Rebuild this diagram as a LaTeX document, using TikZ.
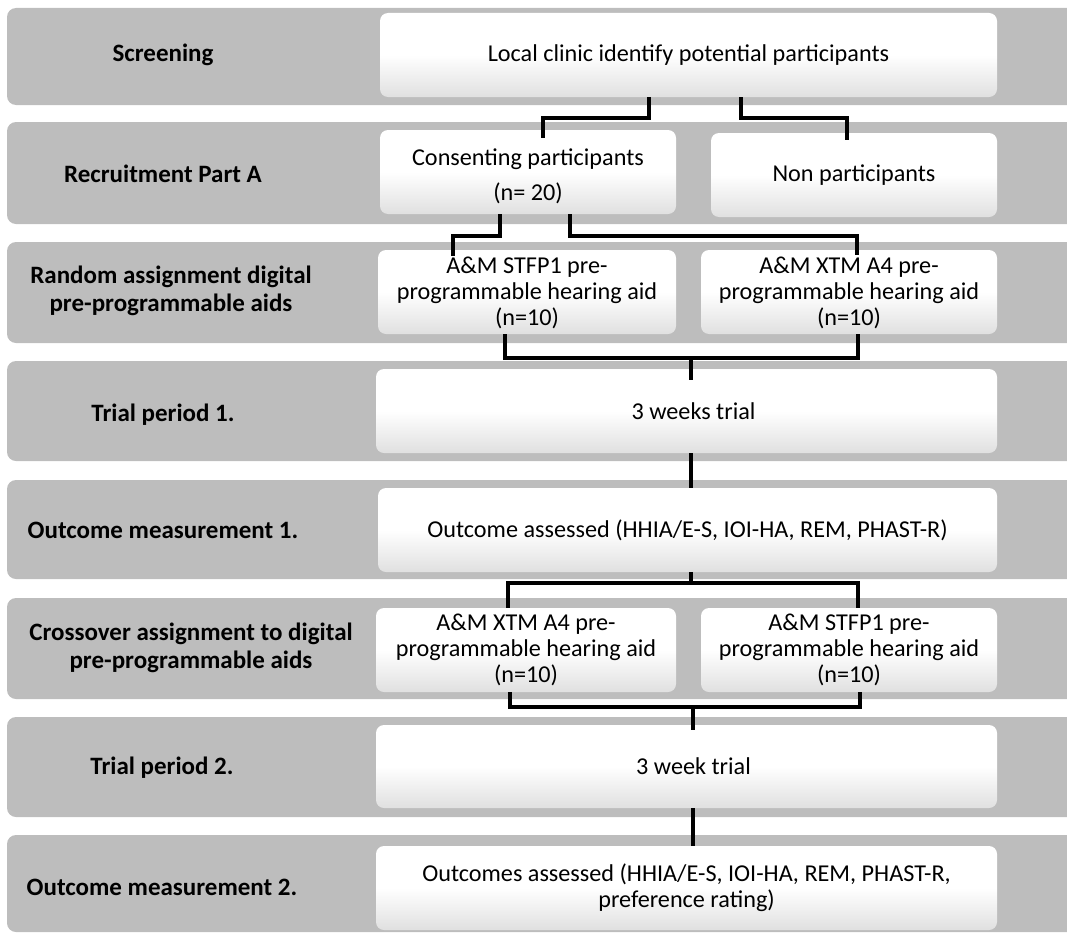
\documentclass[tikz,border=0pt]{standalone}
\usepackage{fontspec}
\setmainfont{Carlito}
\definecolor{bandgray}{RGB}{189,189,189}
\definecolor{boxbot}{RGB}{224,224,224}
\begin{document}
\begin{tikzpicture}[x=1pt,y=-1pt,
  band/.style={fill=bandgray, rounded corners=9pt},
  lbl/.style={font=\fontsize{25}{28}\selectfont\bfseries, inner sep=0pt, align=center},
  wbox/.style={rectangle, rounded corners=8pt, top color=white, bottom color=boxbot, middle color=white,
    inner sep=0pt, align=center, font=\fontsize{24.2}{26}\selectfont},
  conn/.style={line width=4pt, line join=miter, draw=black}]
\useasboundingbox (0,0) rectangle (1067,934);
\clip (0,0) rectangle (1067,934);
% bands
\foreach \t/\b in {8/105,122/224,242/343,361/461,480/579,598/699,717/817,835/932}
  \fill[band] (7,\t) rectangle (1095,\b);
% left labels
\node[lbl] (l1) at (163,55) {Screening};
\node[lbl] (l2) at (163,174) {Recruitment Part A};
\node[lbl] (l3) at (171,291) {Random assignment digital\\pre-programmable aids};
\node[lbl] (l4) at (163,415) {Trial period 1.};
\node[lbl] (l5) at (163,530) {Outcome measurement 1.};
\node[lbl] (l6) at (191,648) {Crossover assignment to digital\\pre-programmable aids};
\node[lbl] (l7) at (162,768) {Trial period 2.};
\node[lbl] (l8) at (162,887) {Outcome measurement 2.};
% boxes
\node[wbox, minimum width=617, minimum height=84] (scr) at (688.5,55) {Local clinic identify potential participants};
\node[wbox, minimum width=296, minimum height=84] (con) at (528,172) {\raisebox{-6pt}[\height][\depth]{\begin{tabular}{@{}c@{}}Consenting participants\\[9pt](n= 20)\end{tabular}}};
\node[wbox, minimum width=286, minimum height=84] (non) at (854,175) {Non participants};
\node[wbox, minimum width=298, minimum height=84] (r1) at (527,292) {\raisebox{-2pt}[\height][\depth]{\begin{tabular}{@{}c@{}}A\&M STFP1 pre-\\programmable hearing aid\\(n=10)\end{tabular}}};
\node[wbox, minimum width=296, minimum height=84] (r2) at (849,292) {\raisebox{-2pt}[\height][\depth]{\begin{tabular}{@{}c@{}}A\&M XTM A4 pre-\\programmable hearing aid\\(n=10)\end{tabular}}};
\node[wbox, minimum width=621, minimum height=84] (t1) at (686.5,411) {\hspace*{14pt}3 weeks trial};
\node[wbox, minimum width=619, minimum height=84] (o1) at (687.5,530) {Outcome assessed (HHIA/E-S, IOI-HA, REM, PHAST-R)};
\node[wbox, minimum width=300, minimum height=84] (c1) at (526,650) {A\&M XTM A4 pre-\\programmable hearing aid\\(n=10)};
\node[wbox, minimum width=296, minimum height=84] (c2) at (849,650) {A\&M STFP1 pre-\\programmable hearing aid\\(n=10)};
\node[wbox, minimum width=621, minimum height=83] (t2) at (686.5,766.5) {\hspace*{14pt}3 week trial};
\node[wbox, minimum width=621, minimum height=84] (o2) at (686.5,888) {Outcomes assessed (HHIA/E-S, IOI-HA, REM, PHAST-R,\\preference rating)};
% connectors
\draw[conn, shorten >=-8pt] ([xshift=-39.5]scr.south) -- ++(0,21) -| ([xshift=15]con.north);
\draw[conn, shorten >=-7pt] ([xshift=52.5]scr.south) -- ++(0,21) -| ([xshift=-7]non.north);
\draw[conn, shorten >=-6pt] ([xshift=-28]con.south) -- ++(0,22) -| ([xshift=-74]r1.north);
\draw[conn, shorten >=-5pt] ([xshift=42]con.south) -- ++(0,22) -| ([xshift=8]r2.north);
\draw[conn] ([xshift=-22]r1.south) -- ++(0,24) -| ([xshift=9]r2.south);
\draw[conn, shorten <=-11pt] ([xshift=4.5]t1.north) -- ++(0,-11);
\draw[conn] ([xshift=4.5]t1.south) -- ([xshift=3.5]o1.north);
\draw[conn] ([xshift=-18]c1.north) -- ++(0,-25) -| ([xshift=9]c2.north);
\draw[conn] ([xshift=3.5]o1.south) -- ++(0,11);
\draw[conn] ([xshift=-16]c1.south) -- ++(0,15) -| ([xshift=11]c2.south);
\draw[conn, shorten <=-5pt] ([xshift=6.5]t2.north) -- ++(0,-18);
\draw[conn] ([xshift=6.5]t2.south) -- ([xshift=6.5]o2.north);
\end{tikzpicture}
\end{document}
